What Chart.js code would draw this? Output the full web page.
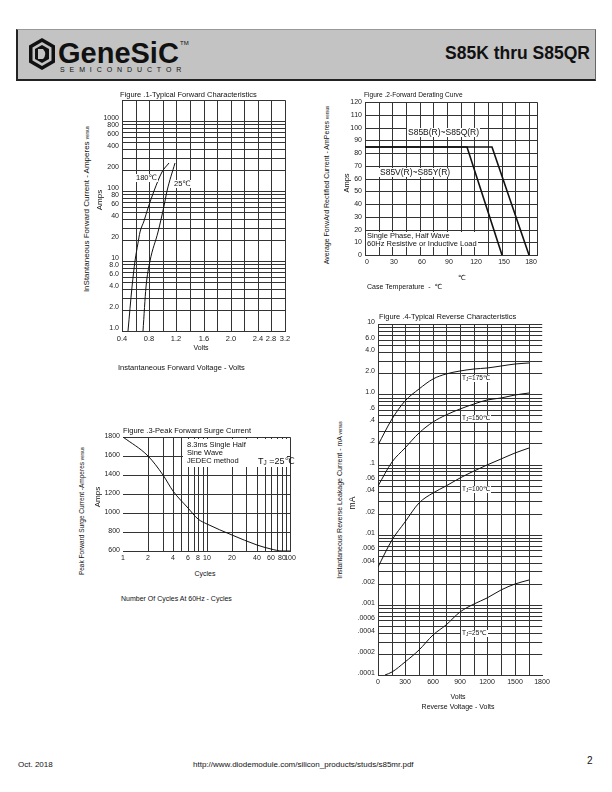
<!DOCTYPE html>
<html>
<head>
  <meta charset="UTF-8">
  <script src="https://cdn.jsdelivr.net/npm/chart.js"></script>
  <style>
    body { margin: 0; background: #fff; }
    .page { position: relative; width: 612px; height: 792px; overflow: hidden; font-family: 'Liberation Sans', Arial, 'DejaVu Sans', sans-serif; color: #111; }
    .t { position: absolute; white-space: nowrap; line-height: 1; }
    .c { transform: translateX(-50%); }
    .rot { position: absolute; white-space: nowrap; line-height: 1; transform: translate(-50%, -50%) rotate(-90deg); }
    .wb { background: #fff; }
    .vs { font-size: 4.5px; }
    sub { font-size: 70%; vertical-align: -1px; line-height: 0; }
    canvas { position: absolute; }
  </style>
</head>
<body>
<div class="page">
  <!-- header -->
  <div style="position:absolute;left:16px;top:29px;width:577px;height:49px;background:#c3c3c3;border-top:1px solid #999;border-right:1px solid #666;border-left:2px solid #222;border-bottom:2px solid #222;"></div>
  <svg style="position:absolute;left:28px;top:37px" width="28" height="34" viewBox="0 0 28 34">
    <polygon points="14,1 27,8.5 27,25.5 14,33 1,25.5 1,8.5" fill="#111"/>
    <polygon points="14,5 23.5,10.5 23.5,23.5 14,29 4.5,23.5 4.5,10.5" fill="#c3c3c3"/>
    <polygon points="14,8 21,12 21,22 14,26 7,22 7,12" fill="#111"/>
    <path d="M10 12 L15 12 Q19.5 17 15 22 L10 22 Z" fill="#c3c3c3"/>
  </svg>
  <div class="t" style="left:58px;top:39px;font-size:29px;font-weight:bold">GeneSiC</div>
  <div class="t" style="left:180px;top:40px;font-size:6px">TM</div>
  <div class="t" style="left:60px;top:66px;font-size:7px;letter-spacing:4.9px">SEMICONDUCTOR</div>
  <div class="t" style="right:22px;top:45px;font-size:17.5px;font-weight:bold">S85K thru S85QR</div>

  <canvas id="c1"></canvas>
  <canvas id="c2"></canvas>
  <canvas id="c3"></canvas>
  <canvas id="c4"></canvas>

  <!-- fig 1 -->
  <div class="t" style="left:120px;top:90.5px;font-size:7.5px">Figure .1-Typical Forward Characteristics</div>
  <div class="rot" style="left:87px;top:209px;font-size:8px">InStantaneous Forward Current - Amperes <span class="vs">versus</span></div>
  <div class="rot" style="left:100px;top:200px;font-size:8px">Amps</div>
  <div class="t wb" style="left:135px;top:174px;font-size:7.5px;padding:0 1px">180℃</div>
  <div class="t wb" style="left:173px;top:180px;font-size:7.5px;padding:0 1px">25℃</div>
  <div class="t c" style="left:201px;top:343.5px;font-size:7px">Volts</div>
  <div class="t" style="left:118px;top:364px;font-size:7.5px">Instantaneous Forward Voltage - Volts</div>

  <!-- fig 2 -->
  <div class="t" style="left:364px;top:91.5px;font-size:6.6px">Figure .2-Forward Derating Curve</div>
  <div class="rot" style="left:327px;top:185px;font-size:7px">Average ForwArd Rectified Current - AmPeres <span class="vs">versus</span></div>
  <div class="rot" style="left:347px;top:183px;font-size:7.5px">Amps</div>
  <div class="t wb" style="left:407px;top:128px;font-size:8.5px;padding:0 1px">S85B(R)~S85Q(R)</div>
  <div class="t wb" style="left:379px;top:168px;font-size:8.5px;padding:0 1px">S85V(R)~S85Y(R)</div>
  <div class="t wb" style="left:366px;top:232px;font-size:7.5px;padding:0 1px">Single Phase, Half Wave<br>60Hz Resistive or Inductive Load</div>
  <div class="t c" style="left:462px;top:274px;font-size:7px">℃</div>
  <div class="t" style="left:367px;top:283px;font-size:7px">Case Temperature &nbsp;- &nbsp;℃</div>

  <!-- fig 3 -->
  <div class="t" style="left:123px;top:427px;font-size:7.5px">Figure .3-Peak Forward Surge Current</div>
  <div class="rot" style="left:82px;top:511px;font-size:6.5px">Peak Forward Surge Current -Amperes <span class="vs">versus</span></div>
  <div class="rot" style="left:98px;top:497px;font-size:8px">Amps</div>
  <div class="t wb" style="left:183px;top:439px;width:104px;height:28px;"></div>
  <div class="t" style="left:187px;top:441px;font-size:7.5px;line-height:7.9px">8.3ms Single Half<br>Sine Wave<br>JEDEC method</div>
  <div class="t" style="left:258px;top:457px;font-size:9px">T<sub>J</sub> =25℃</div>
  <div class="t c" style="left:205px;top:569.5px;font-size:7px">Cycles</div>
  <div class="t" style="left:121px;top:594.5px;font-size:7px">Number Of Cycles At 60Hz - Cycles</div>

  <!-- fig 4 -->
  <div class="t" style="left:379px;top:313px;font-size:7.5px">Figure .4-Typical Reverse Characteristics</div>
  <div class="rot" style="left:340px;top:500px;font-size:7px">Instantaneous Reverse Leakage Current - mA <span class="vs">versus</span></div>
  <div class="rot" style="left:352px;top:503px;font-size:8.5px">mA</div>
  <div class="t wb" style="left:461px;top:375px;font-size:6.5px;padding:0 1px">T<sub>J</sub>=175℃</div>
  <div class="t wb" style="left:461px;top:415px;font-size:6.5px;padding:0 1px">T<sub>J</sub>=150℃</div>
  <div class="t wb" style="left:461px;top:486px;font-size:6.5px;padding:0 1px">T<sub>J</sub>=100℃</div>
  <div class="t wb" style="left:461px;top:630px;font-size:6.5px;padding:0 1px">T<sub>J</sub>=25℃</div>
  <div class="t c" style="left:458px;top:693px;font-size:7px">Volts</div>
  <div class="t c" style="left:458px;top:703px;font-size:7px">Reverse Voltage - Volts</div>

  <!-- footer -->
  <div class="t" style="left:18px;top:761px;font-size:8px">Oct. 2018</div>
  <div class="t" style="left:193px;top:761px;font-size:8px">http://www.diodemodule.com/silicon_products/studs/s85mr.pdf</div>
  <div class="t" style="left:587px;top:756px;font-size:10px">2</div>
</div>

<script>
// fig.1 typical forward characteristics
const fwdVolts180 = [0.488, 0.547, 0.586, 0.63, 0.67, 0.72, 0.78, 0.866, 0.989, 1.086];
const fwdAmps180 = [1, 4.3, 10, 18, 26, 37, 58, 100, 185, 250];
const fwdVolts25 = [0.71, 0.758, 0.817, 0.93, 1.013, 1.063, 1.18];
const fwdAmps25 = [1, 4.3, 10, 26, 61, 100, 250];
const fwdXLabels = ['0.4', '', '0.8', '', '1.2', '', '1.6', '', '2.0', '', '2.4', '2.8', '3.2'];
const fwdYLabels = ['1.0', '2.0', '4.0', '6.0', '8.0', '10', '20', '40', '60', '80', '100', '200', '400', '600', '800', '1000'];

// fig.2 forward derating curve
const drTempBQ = [0, 140, 180];
const drAmpsBQ = [85, 85, 0];
const drTempVY = [0, 112, 150];
const drAmpsVY = [85, 85, 0];
const drXLabels = ['0', '30', '60', '90', '120', '150', '180'];
const drYLabels = ['0', '10', '20', '30', '40', '50', '60', '70', '80', '90', '100', '110', '120'];

// fig.3 peak forward surge current
const sgCycles = [1, 2, 3, 4, 6, 8, 10, 20, 40, 60, 80, 100];
const sgAmps = [1800, 1600, 1405, 1235, 1055, 940, 885, 765, 665, 625, 605, 600];
const sgXLabels = ['1', '2', '4', '6', '8', '10', '20', '40', '60', '80', '100'];
const sgYLabels = ['600', '800', '1000', '1200', '1400', '1600', '1800'];

// fig.4 typical reverse characteristics
const rvVolts = [0, 150, 300, 450, 600, 750, 900, 1050, 1200, 1350, 1500, 1650];
const rv175 = [0.19, 0.45, 0.8, 1.18, 1.64, 1.97, 2.15, 2.27, 2.4, 2.53, 2.68, 2.82];
const rv150 = [0.05, 0.11, 0.17, 0.28, 0.4, 0.5, 0.62, 0.72, 0.82, 0.9, 0.98, 1.05];
const rv100 = [0.0035, 0.0085, 0.015, 0.028, 0.039, 0.05, 0.065, 0.082, 0.1, 0.12, 0.145, 0.17];
const rvVolts25 = [80, 150, 300, 450, 600, 750, 900, 1050, 1200, 1350, 1500, 1650];
const rv25 = [0.0001, 0.000111, 0.000155, 0.000226, 0.00037, 0.00051, 0.00079, 0.00102, 0.00127, 0.00162, 0.00196, 0.00228];
const rvXLabels = ['0', '300', '600', '900', '1200', '1500', '1800'];
const rvYLabels = ['.0001', '.0002', '.0004', '.0006', '.001', '.002', '.004', '.006', '.01', '.02', '.04', '.06', '.1', '.2', '.4', '.6', '1.0', '2.0', '4.0', '6.0', '10'];

const GRID = '#333';
const YW = 30, XH = 14, PT = 6, PR = 10;
Chart.defaults.font.family = "'Liberation Sans', Arial, sans-serif";
Chart.defaults.color = '#222';

function logTicks(min, max) {
  const out = [];
  for (let e = Math.floor(Math.log10(min)); e <= Math.ceil(Math.log10(max)); e++) {
    for (let m = 1; m < 10; m++) {
      const v = Number((m * Math.pow(10, e)).toPrecision(6));
      if (v >= min * 0.999 && v <= max * 1.001) out.push(v);
    }
  }
  return out;
}
function stepTicks(min, max, step) {
  const out = [];
  for (let v = min; v <= max + 1e-9; v += step) out.push(Number(v.toFixed(4)));
  return out;
}
function pick(labels) {
  return v => {
    const l = labels.find(s => Math.abs(parseFloat(s) - v) <= Math.abs(v) * 1e-6 + 1e-12);
    return l === undefined ? '' : l;
  };
}
function line(xs, ys, smooth) {
  return {
    data: xs.map((x, i) => ({ x: x, y: ys[i] })),
    showLine: true, borderColor: '#111', borderWidth: 1, pointRadius: 0,
    cubicInterpolationMode: smooth ? 'monotone' : 'default', tension: 0
  };
}
function axis(o) {
  return {
    type: o.type || 'linear', min: o.min, max: o.max, alignToPixels: true,
    afterBuildTicks: ax => { ax.ticks = o.ticks.map(v => ({ value: v })); },
    afterFit: o.isX ? s => { s.height = XH; } : s => { s.width = YW; },
    grid: { color: o.gridColor || GRID, lineWidth: 1, drawTicks: false },
    border: { display: o.border !== false, color: GRID, width: 1 },
    ticks: {
      autoSkip: false, maxRotation: 0, padding: 3, labelOffset: o.offset || 0,
      font: { size: o.size || 7 }, color: '#222', callback: o.label
    }
  };
}
function draw(id, b, datasets, xs, ys) {
  const cv = document.getElementById(id);
  cv.width = YW + b.R - b.L + PR;
  cv.height = PT + b.B - b.T + XH;
  cv.style.left = (b.L - YW) + 'px';
  cv.style.top = (b.T - PT) + 'px';
  new Chart(cv, {
    type: 'scatter',
    data: { datasets: datasets },
    options: {
      responsive: false, animation: false, events: [],
      layout: { padding: { left: 0, top: PT, right: PR, bottom: 0 } },
      plugins: { legend: { display: false }, tooltip: { enabled: false } },
      scales: { x: xs, y: ys }
    }
  });
}

// fig 1
draw('c1', { L: 122, R: 285, T: 99, B: 331 },
  [line(fwdVolts180, fwdAmps180, true), line(fwdVolts25, fwdAmps25, true)],
  axis({ isX: true, min: 0.4, max: 2.8, ticks: stepTicks(0.4, 2.8, 0.2), size: 7.5,
    label: (v, i) => fwdXLabels[i] }),
  axis({ type: 'logarithmic', min: 1, max: 2000, ticks: logTicks(1, 2000), offset: -3,
    label: pick(fwdYLabels) }));

// fig 2
draw('c2', { L: 365, R: 537, T: 101, B: 255 },
  [line(drTempBQ, drAmpsBQ, false), line(drTempVY, drAmpsVY, false)].map(d => Object.assign(d, { borderWidth: 1.6 })),
  axis({ isX: true, min: 0, max: 189, ticks: stepTicks(0, 180, 15).concat([189]), offset: 2,
    label: pick(drXLabels) }),
  axis({ min: 0, max: 120, ticks: stepTicks(0, 120, 10), label: pick(drYLabels) }));

// fig 3
draw('c3', { L: 123, R: 290, T: 436, B: 551 },
  [line(sgCycles, sgAmps, true)],
  axis({ isX: true, type: 'logarithmic', min: 1, max: 100, ticks: logTicks(1, 100),
    gridColor: c => (c.tick && c.tick.value === 1 ? 'rgba(0,0,0,0)' : GRID),
    label: pick(sgXLabels) }),
  axis({ min: 600, max: 1800, ticks: stepTicks(600, 1800, 200), border: false, offset: -1,
    label: pick(sgYLabels) }));

// fig 4
draw('c4', { L: 378, R: 543, T: 323, B: 675 },
  [line(rvVolts, rv175, true), line(rvVolts, rv150, true), line(rvVolts, rv100, true), line(rvVolts25, rv25, true)],
  axis({ isX: true, min: 0, max: 1800, ticks: stepTicks(0, 1800, 150),
    gridColor: c => (c.tick && c.tick.value === 1800 ? 'rgba(0,0,0,0)' : GRID),
    label: pick(rvXLabels) }),
  axis({ type: 'logarithmic', min: 0.0001, max: 10, ticks: logTicks(0.0001, 10), offset: -2,
    label: pick(rvYLabels) }));
</script>
</body>
</html>
